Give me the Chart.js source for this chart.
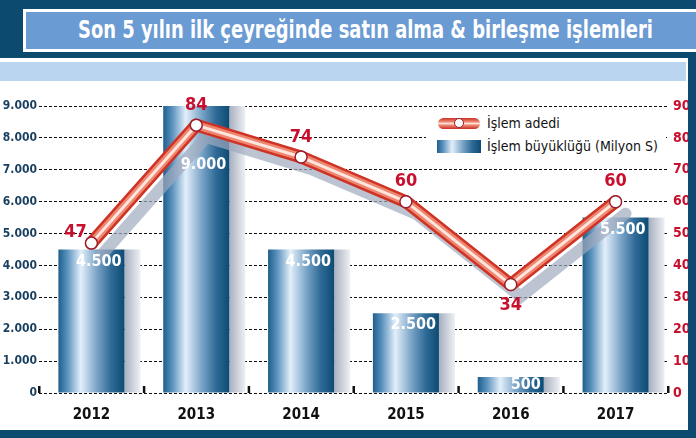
<!DOCTYPE html>
<html>
<head>
<meta charset="utf-8">
<script src="https://cdn.jsdelivr.net/npm/chart.js@4.4.1/dist/chart.umd.min.js"></script>
<style>
  html, body { margin: 0; padding: 0; }
  body { width: 696px; height: 438px; position: relative; overflow: hidden; background: #fff;
         font-family: "DejaVu Sans Condensed", "Liberation Sans Narrow", "Roboto", sans-serif; }
  .navy { position: absolute; background: #0d4a6f; }
  #titleBox { position: absolute; left: 23px; top: 9px; width: 673px; height: 43px;
              box-sizing: border-box; border: 3px solid #fff; border-right: none; background: #6a9bd3; }
  #titleText { position: absolute; left: 52px; top: 1px; white-space: nowrap; transform-origin: 0 50%;
               color: #fff; font-weight: bold; font-size: 24px; line-height: 35px; }
  #band { position: absolute; left: 0; top: 62px; width: 686px; height: 19px; background: #b9d5ef; }
  #chartWrap { position: absolute; left: 0; top: 82px; width: 688px; height: 348px; }
  #legend { position: absolute; left: 426px; top: 113px; width: 240px; height: 46px; background: #fff; }
  .item { position: absolute; left: 61px; font-size: 14px; color: #111; white-space: nowrap; }
  .pill { position: absolute; left: 12px; top: 5px; width: 42px; height: 11px; border-radius: 6px;
          background: linear-gradient(to bottom, #c92e24 0%, #f08a74 35%, #fde2da 50%, #f08a74 65%, #c92e24 100%); }
  .pill span { position: absolute; left: 16px; top: 0px; width: 8px; height: 8px; border-radius: 50%;
               background: #fff; border: 1.5px solid #9b1c2c; }
  .box { position: absolute; left: 11px; top: 27px; width: 44px; height: 13px;
         background: linear-gradient(to right, #1d5f8c 0%, #5d93bf 14%, #e3effa 34%, #7ba5c8 58%, #2e6a96 80%, #0c4b73 100%); }
</style>
</head>
<body>
<div class="navy" style="left:0;top:0;width:696px;height:58px;"></div>
<div class="navy" style="left:688px;top:50px;width:8px;height:388px;"></div>
<div class="navy" style="left:0;top:430px;width:696px;height:8px;"></div>
<div id="titleBox"><span id="titleText">Son 5 yılın ilk çeyreğinde satın alma &amp; birleşme işlemleri</span></div>
<div id="band"></div>
<div id="chartWrap"><canvas id="dealsChart" width="688" height="348"></canvas></div>
<div id="legend">
  <div class="pill"><span></span></div>
  <div class="item" style="top:2px;">İşlem adedi</div>
  <div class="box"></div>
  <div class="item" style="top:25px;">İşlem büyüklüğü (Milyon S)</div>
</div>
<script>
const years = ['2012', '2013', '2014', '2015', '2016', '2017'];
const dealSize = [4500, 9000, 4500, 2500, 500, 5500];   // Milyon $
const dealCount = [47, 84, 74, 60, 34, 60];
const leftTicks = [0, 1000, 2000, 3000, 4000, 5000, 6000, 7000, 8000, 9000];
const rightTicks = [0, 10, 20, 30, 40, 50, 60, 70, 80, 90];

const FONT = '"DejaVu Sans Condensed", "Liberation Sans Narrow", sans-serif';
const RED = '#c8102e';

// squeeze the title to the width it has in the print
(function() {
    const t = document.getElementById('titleText');
    const w = t.getBoundingClientRect().width;
    t.style.transform = 'scaleX(' + (575 / w) + ')';
})();

function fmt(v) {
    return String(v).replace(/\B(?=(\d{3})+(?!\d))/g, '.');
}

function barGradient(ctx, left, right) {
    const g = ctx.createLinearGradient(left, 0, right, 0);
    g.addColorStop(0, '#1d5f8c');
    g.addColorStop(0.14, '#5d93bf');
    g.addColorStop(0.34, '#e3effa');
    g.addColorStop(0.58, '#7ba5c8');
    g.addColorStop(0.8, '#2e6a96');
    g.addColorStop(1, '#0c4b73');
    return g;
}

// shadow to the right of bars, small ticks on the base line, value labels
const decor = {
    id: 'decor',
    beforeDatasetsDraw(chart) {
        const ctx = chart.ctx;
        const meta = chart.getDatasetMeta(0);
        meta.data.forEach(el => {
            const r = el.x + el.width / 2;
            const g = ctx.createLinearGradient(r, 0, r + 16, 0);
            g.addColorStop(0, '#a7afbf');
            g.addColorStop(1, '#eef0f4');
            ctx.fillStyle = g;
            ctx.fillRect(r, el.y, 16, el.base - el.y);
        });
        const xs = chart.scales.x;
        const base = chart.scales.y.getPixelForValue(0);
        const step = xs.width / years.length;
        ctx.fillStyle = '#111';
        for (let i = 0; i <= years.length; i++) {
            const x = xs.left + i * step;
            ctx.fillRect(x - 1, base - 7, 2.5, 7);
        }
    },
    beforeDatasetDraw(chart, args) {
        if (args.index === 1) {
            chart.ctx.save();
            chart.ctx.translate(10, 12);
        }
    },
    afterDatasetDraw(chart, args) {
        if (args.index === 1) chart.ctx.restore();
    },
    afterDatasetsDraw(chart) {
        const ctx = chart.ctx;
        const bars = chart.getDatasetMeta(0).data;
        const pts = chart.getDatasetMeta(4).data;
        const base = chart.scales.y.getPixelForValue(0);
        ctx.save();
        ctx.font = 'bold 16px ' + FONT;
        ctx.textBaseline = 'middle';
        bars.forEach((el, i) => {
            let y = Math.min(el.y + 12, base - 8);
            if (el.y < pts[i].y) y = pts[i].y + 40;
            ctx.fillStyle = '#fff';
            ctx.textAlign = 'right';
            ctx.fillText(fmt(dealSize[i]), el.x + el.width / 2 - 3, y);
        });
        ctx.font = 'bold 18px ' + FONT;
        ctx.fillStyle = RED;
        ctx.textAlign = 'center';
        pts.forEach((p, i) => {
            const prev = dealCount[i - 1], next = dealCount[i + 1];
            let x = p.x, y = p.y - 20;
            if (i === 0) { x = p.x - 16; y = p.y - 11; }
            else if (next !== undefined && dealCount[i] < prev && dealCount[i] < next) y = p.y + 21;
            ctx.fillText(String(dealCount[i]), x, y);
        });
        ctx.restore();
    }
};

const lineBase = {
    type: 'line',
    data: dealCount,
    yAxisID: 'y1',
    fill: false,
    tension: 0,
    pointRadius: 0,
    borderCapStyle: 'round',
    borderJoinStyle: 'round'
};

new Chart(document.getElementById('dealsChart'), {
    type: 'bar',
    data: {
        labels: years,
        datasets: [
            {
                label: 'İşlem büyüklüğü (Milyon S)',
                data: dealSize,
                yAxisID: 'y',
                order: 10,
                barPercentage: 0.63,
                categoryPercentage: 1,
                backgroundColor(c) {
                    const xs = c.chart.scales.x;
                    if (!xs || !Number.isFinite(xs.width) || !xs.width) return '#0c4b73';
                    const half = xs.width / years.length * 0.63 / 2;
                    const cx = xs.getPixelForValue(c.dataIndex);
                    if (!Number.isFinite(cx)) return '#0c4b73';
                    return barGradient(c.chart.ctx, cx - half, cx + half);
                }
            },
            Object.assign({}, lineBase, { label: 'shadow', order: 3, borderWidth: 12, borderColor: 'rgba(160,170,190,0.7)', borderJoinStyle: 'miter' }),
            Object.assign({}, lineBase, { label: 'outer', order: 2, borderWidth: 13, borderColor: '#cf3326' }),
            Object.assign({}, lineBase, { label: 'mid', order: 1, borderWidth: 8, borderColor: '#ef8670' }),
            Object.assign({}, lineBase, {
                label: 'İşlem adedi', order: 0, borderWidth: 3, borderColor: '#fde6de',
                pointRadius: 6, pointBackgroundColor: '#fff', pointBorderColor: '#9b1c2c', pointBorderWidth: 1.5
            })
        ]
    },
    options: {
        responsive: false,
        animation: false,
        layout: { padding: { top: 24, left: 0, right: 0, bottom: 0 } },
        plugins: { legend: { display: false }, tooltip: { enabled: false } },
        scales: {
            x: {
                offset: true,
                grid: { display: false },
                border: { display: false },
                ticks: { color: '#111', padding: 5, font: { family: FONT, size: 15, weight: 'bold' } },
                afterFit(s) { s.height = 37; }
            },
            y: {
                position: 'left',
                min: 0,
                max: 9000,
                afterBuildTicks(s) { s.ticks = leftTicks.map(v => ({ value: v })); },
                grid: { color: '#111', lineWidth: 1, drawTicks: false },
                border: { display: false, dash: [3, 2] },
                ticks: {
                    color: '#173e5e', padding: 2,
                    font: { family: FONT, size: 12, weight: 'bold' },
                    callback: v => fmt(v)
                },
                afterFit(s) { s.width = 39; }
            },
            y1: {
                position: 'right',
                min: 0,
                max: 90,
                afterBuildTicks(s) { s.ticks = rightTicks.map(v => ({ value: v })); },
                grid: { drawOnChartArea: false, drawTicks: false },
                border: { display: false },
                ticks: { color: RED, padding: 5, font: { family: FONT, size: 14, weight: 'bold' } },
                afterFit(s) { s.width = 20; }
            }
        }
    },
    plugins: [decor]
});
</script>
</body>
</html>
